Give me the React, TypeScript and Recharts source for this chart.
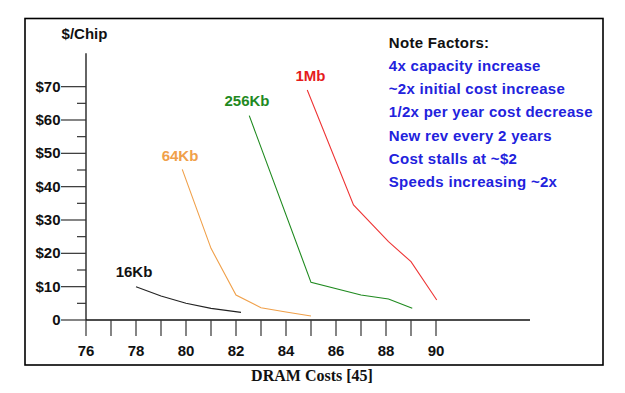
import React from 'react';
import { LineChart, Line, XAxis, YAxis } from 'recharts';

// Series data: [year, $/chip]
const kb16 = [
  { x: 78.0, y: 10.0 },
  { x: 79.0, y: 7.2 },
  { x: 80.0, y: 5.0 },
  { x: 81.0, y: 3.5 },
  { x: 82.2, y: 2.3 },
];
const kb64 = [
  { x: 79.85, y: 45.2 },
  { x: 81.0, y: 21.5 },
  { x: 82.0, y: 7.5 },
  { x: 83.0, y: 3.7 },
  { x: 84.0, y: 2.4 },
  { x: 85.0, y: 1.2 },
];
const kb256 = [
  { x: 82.53, y: 61.3 },
  { x: 85.0, y: 11.3 },
  { x: 87.0, y: 7.5 },
  { x: 88.1, y: 6.3 },
  { x: 89.05, y: 3.5 },
];
const mb1 = [
  { x: 84.85, y: 69.0 },
  { x: 86.7, y: 34.5 },
  { x: 88.1, y: 23.5 },
  { x: 89.0, y: 17.5 },
  { x: 90.03, y: 6.0 },
];

const xTicks = [76, 77, 78, 79, 80, 81, 82, 83, 84, 85, 86, 87, 88, 89, 90];
const yTicks = [0, 5, 10, 15, 20, 25, 30, 35, 40, 45, 50, 55, 60, 65, 70];
const yLabels: Record<number, string> = { 0: '0', 10: '$10', 20: '$20', 30: '$30', 40: '$40', 50: '$50', 60: '$60', 70: '$70' };

const notes = [
  '4x capacity increase',
  '~2x initial cost increase',
  '1/2x per year cost decrease',
  'New rev every 2 years',
  'Cost stalls at ~$2',
  'Speeds increasing ~2x',
];

const FONT = '"Liberation Sans", Arial, Helvetica, sans-serif';

const XTick = (props: any) => {
  const { x, y, payload } = props;
  const v = payload.value;
  return (
    <g>
      <line x1={x} y1={y} x2={x} y2={y + 16} stroke="#333" strokeWidth={1.2} />
      {v % 2 === 0 && (
        <text x={x} y={y + 36} textAnchor="middle" fontFamily={FONT} fontWeight={700} fontSize={15} fill="#111">
          {v}
        </text>
      )}
    </g>
  );
};

const YTick = (props: any) => {
  const { x, y, payload } = props;
  const v = payload.value;
  const major = v % 10 === 0;
  return (
    <g>
      <line x1={major ? x - 25 : x - 9} y1={y} x2={x} y2={y} stroke="#333" strokeWidth={1.2} />
      {major && (
        <text x={x - 25.5} y={y + 5} textAnchor="end" fontFamily={FONT} fontWeight={700} fontSize={15} fill="#111">
          {yLabels[v]}
        </text>
      )}
    </g>
  );
};

export default function App() {
  return (
    <div style={{ position: 'absolute', left: 0, top: 0, width: 625, height: 393, background: '#fff' }}>
      <LineChart
        width={625}
        height={393}
        margin={{ top: 53.33, right: 95, bottom: 33, left: 26 }}
      >
        <XAxis
          dataKey="x"
          type="number"
          domain={[76, 93.76]}
          ticks={xTicks}
          interval={0}
          tickSize={0}
          tickMargin={0}
          height={40}
          axisLine={{ stroke: '#111', strokeWidth: 1.3 }}
          tickLine={false}
          tick={(p: any) => <XTick {...p} />}
          allowDataOverflow
        />
        <YAxis
          type="number"
          domain={[0, 80]}
          ticks={yTicks}
          interval={0}
          width={60}
          tickSize={0}
          tickMargin={0}
          axisLine={{ stroke: '#111', strokeWidth: 1.3 }}
          tickLine={false}
          tick={(p: any) => <YTick {...p} />}
          allowDataOverflow
        />
        <Line data={kb16} dataKey="y" type="linear" stroke="#222" strokeWidth={1.1} dot={false} isAnimationActive={false} />
        <Line data={kb64} dataKey="y" type="linear" stroke="#f0a04a" strokeWidth={1.1} dot={false} isAnimationActive={false} />
        <Line data={kb256} dataKey="y" type="linear" stroke="#1f8a1f" strokeWidth={1.1} dot={false} isAnimationActive={false} />
        <Line data={mb1} dataKey="y" type="linear" stroke="#ee3535" strokeWidth={1.1} dot={false} isAnimationActive={false} />
      </LineChart>
      <svg width={625} height={393} style={{ position: 'absolute', left: 0, top: 0, pointerEvents: 'none' }}>
        <rect x={25} y={18.5} width={578} height={346.5} fill="none" stroke="#000" strokeWidth={1.6} />
        <text x={84.5} y={38.8} textAnchor="middle" fontFamily={FONT} fontWeight={700} fontSize={15} fill="#111">$/Chip</text>
        <text x={134} y={277} textAnchor="middle" fontFamily={FONT} fontWeight={700} fontSize={15} fill="#111">16Kb</text>
        <text x={180} y={160.5} textAnchor="middle" fontFamily={FONT} fontWeight={700} fontSize={15} fill="#f0a04a">64Kb</text>
        <text x={247} y={105.5} textAnchor="middle" fontFamily={FONT} fontWeight={700} fontSize={15} fill="#1f8a1f">256Kb</text>
        <text x={310.5} y={80.5} textAnchor="middle" fontFamily={FONT} fontWeight={700} fontSize={15} fill="#e51c1c">1Mb</text>
        <text x={388.8} y={47.8} fontFamily={FONT} fontWeight={700} fontSize={15} letterSpacing={0.3} fill="#111">Note Factors:</text>
        {notes.map((n, i) => (
          <text key={n} x={388.8} y={70.8 + i * 23.3} fontFamily={FONT} fontWeight={700} fontSize={15} letterSpacing={0.3} fill="#2222dd">
            {n}
          </text>
        ))}
        <text x={312} y={381} textAnchor="middle" fontFamily={'"Liberation Serif", "Times New Roman", serif'} fontWeight={700} fontSize={16} fill="#111">
          DRAM Costs [45]
        </text>
      </svg>
    </div>
  );
}
